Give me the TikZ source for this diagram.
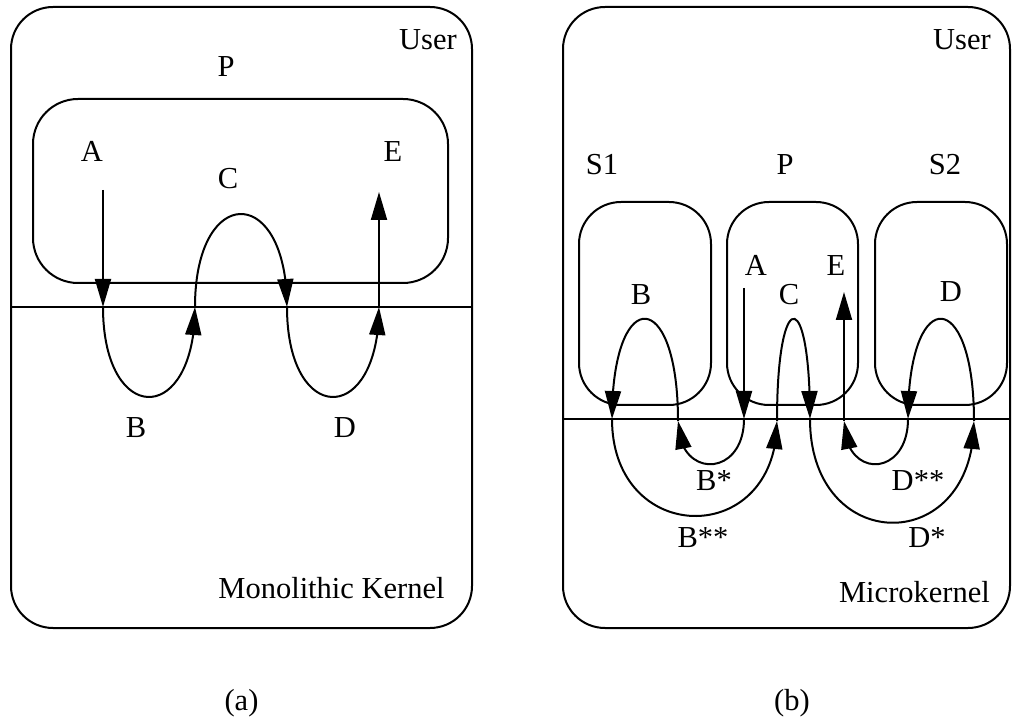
\documentclass[tikz,border=0pt]{standalone}
\usepackage{fontspec}
\setmainfont{Liberation Serif}
\usetikzlibrary{arrows.meta,bending}
\tikzset{
  frame/.style={draw, line width=2pt, rounded corners=42pt, rectangle, inner sep=0pt},
  subbox/.style={draw, line width=2pt, rounded corners=42pt, rectangle, inner sep=0pt},
  lbl/.style={font=\fontsize{30.5}{36}\selectfont, inner sep=0pt, anchor=base},
  flow/.style={line width=2pt, -{Triangle[length=28pt,width=16pt]}},
  divider/.style={line width=2pt},
}
\begin{document}
\begin{tikzpicture}[x=1pt,y=-1pt]
\useasboundingbox (0,0) rectangle (1013,719);
% ---------- (a) monolithic ----------
\node[frame, minimum width=461pt, minimum height=621pt] (outerL) at (241.5,317.5) {};
\node[subbox, rounded corners=45pt, minimum width=415pt, minimum height=184pt] (procL) at (240.5,191) {};
\coordinate (kl1) at (11,307);
\coordinate (kl2) at (472,307);
\draw[divider] (kl1) -- (kl2);
\node[lbl] (userL) at (428,50) {User};
\node[lbl] (pL) at (226,77) {P};
\node[lbl] (aL) at (92,162) {A};
\node[lbl] (eL) at (393,162) {E};
\node[lbl] (cL) at (228,189) {C};
\node[lbl] (bL) at (136,438) {B};
\node[lbl] (dL) at (345,438) {D};
\node[lbl] (mk) at (331.5,598) {Monolithic Kernel};
\node[lbl] (capa) at (241.5,710) {(a)};
\coordinate (a1) at (103,190);
\coordinate (j1) at (103,307);
\coordinate (j2) at (195,307);
\coordinate (j3) at (287,307);
\coordinate (j4) at (379,307);
\coordinate (e1) at (379,192);
\draw[flow] (a1) -- (j1);
\draw[flow] (j1) .. controls +(0,120) and +(0,120) .. (j2);
\draw[flow] (j2) .. controls +(0,-124) and +(0,-124) .. (j3);
\draw[flow] (j3) .. controls +(0,120) and +(0,120) .. (j4);
\draw[flow] (j4) -- (e1);
% ---------- (b) microkernel ----------
\node[frame, minimum width=447pt, minimum height=621pt] (outerR) at (786.5,317.5) {};
\node[subbox, minimum width=132pt, minimum height=203pt] (s1box) at (645,303.5) {};
\node[subbox, minimum width=131pt, minimum height=203pt] (pbox) at (792.5,303.5) {};
\node[subbox, minimum width=132pt, minimum height=203pt] (s2box) at (941,303.5) {};
\coordinate (kr1) at (563,419);
\coordinate (kr2) at (1010,419);
\draw[divider] (kr1) -- (kr2);
\node[lbl] (userR) at (962,50) {User};
\node[lbl] (s1) at (602,175) {S1};
\node[lbl] (pR) at (785,175) {P};
\node[lbl] (s2) at (945,175) {S2};
\node[lbl] (bR) at (641,305) {B};
\node[lbl] (aR) at (756,276) {A};
\node[lbl] (eR) at (836,276) {E};
\node[lbl] (cR) at (789,305) {C};
\node[lbl] (dR) at (951,302) {D};
\node[lbl] (bs) at (714,490) {B*};
\node[lbl] (dss) at (918,490) {D**};
\node[lbl] (bss) at (703,547) {B**};
\node[lbl] (ds) at (927,547) {D*};
\node[lbl] (mkr) at (914.5,602) {Microkernel};
\node[lbl] (capb) at (792,710) {(b)};
\coordinate (ra) at (744,288);
\coordinate (r1) at (744,419);
\coordinate (r2) at (678,421);
\coordinate (r3) at (612,419);
\coordinate (r4) at (777,421);
\coordinate (r5) at (810,419);
\coordinate (r6) at (974,421);
\coordinate (r7) at (908,419);
\coordinate (r8) at (844,421);
\coordinate (re) at (844,292);
\draw[flow] (ra) -- (r1);
\draw[flow] (r1) .. controls +(0,59) and +(0,59) .. (r2);
\draw[flow] (r2) .. controls +(0,-135) and +(0,-135) .. (r3);
\draw[flow] (r3) .. controls +(0,128) and +(0,128) .. (r4);
\draw[flow] (r4) .. controls +(0,-135) and +(0,-135) .. (r5);
\draw[flow] (r5) .. controls +(0,137) and +(0,137) .. (r6);
\draw[flow] (r6) .. controls +(0,-135) and +(0,-135) .. (r7);
\draw[flow] (r7) .. controls +(0,59) and +(0,59) .. (r8);
\draw[flow] (r8) -- (re);
\end{tikzpicture}
\end{document}
